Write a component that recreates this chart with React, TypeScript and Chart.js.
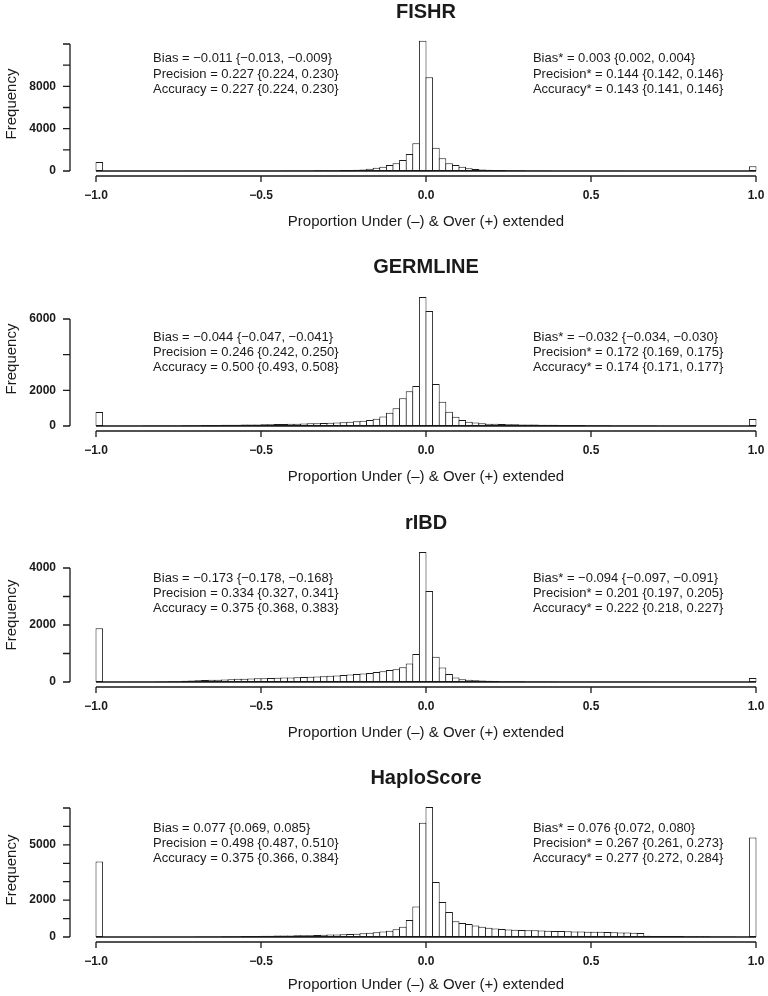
import React, { useEffect, useRef } from "react";
import { Chart, registerables } from "chart.js";

Chart.register(...registerables);

const FONT = '"Liberation Sans", Arial, Helvetica, sans-serif';
const INK = "#1a1a1a";

// ---- histogram bins (width 0.02 from -1 to 1) ----
const BIN_START = -1.0;
const BIN_WIDTH = 0.02;
const X_TICKS = [-1, -0.5, 0, 0.5, 1];
const X_TITLE = "Proportion Under (–) & Over (+) extended";
const Y_TITLE = "Frequency";

// ---- FISHR ----
const FISHR_COUNTS = [
  850, 0, 0, 0, 5, 5, 5, 5, 10, 10,
  10, 10, 10, 15, 15, 15, 15, 20, 20, 20,
  20, 25, 25, 25, 30, 30, 35, 35, 40, 40,
  45, 50, 55, 60, 65, 70, 80, 90, 100, 120,
  150, 220, 310, 410, 570, 730, 1040, 1600, 2620, 12300,
  8850, 2200, 1200, 730, 560, 400, 260, 190, 150, 120,
  100, 90, 80, 70, 60, 55, 50, 45, 40, 35,
  30, 30, 25, 25, 20, 20, 20, 15, 15, 15,
  10, 10, 10, 10, 10, 5, 5, 5, 5, 5,
  5, 5, 5, 0, 0, 0, 0, 0, 0, 450,
];
const FISHR_Y_TICKS = [0, 2000, 4000, 6000, 8000, 10000, 12000];
const FISHR_Y_LABELS = [0, 4000, 8000];
const FISHR_STATS_LEFT = [
  "Bias = −0.011 {−0.013, −0.009}",
  "Precision = 0.227 {0.224, 0.230}",
  "Accuracy = 0.227 {0.224, 0.230}",
];
const FISHR_STATS_RIGHT = [
  "Bias* = 0.003 {0.002, 0.004}",
  "Precision* = 0.144 {0.142, 0.146}",
  "Accuracy* = 0.143 {0.141, 0.146}",
];

// ---- GERMLINE ----
const GERMLINE_COUNTS = [
  790, 10, 10, 15, 15, 20, 20, 25, 25, 30,
  30, 35, 35, 40, 45, 45, 50, 55, 60, 65,
  70, 75, 80, 85, 90, 95, 100, 110, 115, 120,
  130, 140, 150, 160, 170, 185, 200, 215, 235, 260,
  290, 330, 400, 530, 740, 1000, 1550, 1950, 2250, 7230,
  6450, 2350, 1360, 800, 520, 340, 240, 190, 150, 130,
  120, 110, 100, 95, 90, 85, 80, 75, 70, 65,
  60, 55, 50, 50, 45, 45, 40, 40, 35, 35,
  30, 30, 30, 25, 25, 20, 20, 20, 15, 15,
  15, 10, 10, 10, 10, 5, 5, 5, 5, 390,
];
const GERMLINE_Y_TICKS = [0, 2000, 4000, 6000];
const GERMLINE_Y_LABELS = [0, 2000, 6000];
const GERMLINE_STATS_LEFT = [
  "Bias = −0.044 {−0.047, −0.041}",
  "Precision = 0.246 {0.242, 0.250}",
  "Accuracy = 0.500 {0.493, 0.508}",
];
const GERMLINE_STATS_RIGHT = [
  "Bias* = −0.032 {−0.034, −0.030}",
  "Precision* = 0.172 {0.169, 0.175}",
  "Accuracy* = 0.174 {0.171, 0.177}",
];

// ---- rIBD ----
const RIBD_COUNTS = [
  1890, 0, 0, 0, 0, 5, 5, 10, 10, 15,
  20, 25, 30, 40, 50, 60, 70, 75, 80, 90,
  100, 110, 115, 120, 130, 135, 140, 150, 155, 160,
  170, 175, 185, 195, 205, 215, 230, 245, 265, 285,
  300, 320, 350, 380, 420, 450, 520, 650, 980, 4560,
  3190, 890, 510, 280, 160, 100, 80, 60, 50, 40,
  35, 30, 30, 25, 25, 20, 20, 15, 15, 15,
  10, 10, 10, 10, 10, 5, 5, 5, 5, 5,
  5, 5, 5, 5, 0, 0, 0, 0, 0, 0,
  0, 0, 0, 0, 0, 0, 0, 0, 0, 140,
];
const RIBD_Y_TICKS = [0, 1000, 2000, 3000, 4000];
const RIBD_Y_LABELS = [0, 2000, 4000];
const RIBD_STATS_LEFT = [
  "Bias = −0.173 {−0.178, −0.168}",
  "Precision = 0.334 {0.327, 0.341}",
  "Accuracy = 0.375 {0.368, 0.383}",
];
const RIBD_STATS_RIGHT = [
  "Bias* = −0.094 {−0.097, −0.091}",
  "Precision* = 0.201 {0.197, 0.205}",
  "Accuracy* = 0.222 {0.218, 0.227}",
];

// ---- HaploScore ----
const HAPLO_COUNTS = [
  4100, 0, 0, 0, 0, 0, 5, 5, 5, 10,
  10, 15, 15, 20, 20, 25, 25, 30, 30, 35,
  40, 45, 50, 55, 60, 65, 70, 75, 80, 85,
  90, 95, 100, 110, 120, 130, 140, 150, 160, 180,
  200, 230, 260, 300, 340, 420, 560, 920, 1650, 6200,
  7050, 2980, 1900, 1350, 850, 760, 700, 620, 560, 500,
  460, 430, 410, 390, 380, 370, 360, 350, 340, 330,
  320, 310, 300, 295, 290, 285, 280, 270, 260, 250,
  240, 230, 220, 70, 60, 60, 55, 50, 50, 45,
  40, 40, 35, 30, 30, 25, 25, 20, 20, 5400,
];
const HAPLO_Y_TICKS = [0, 1000, 2000, 3000, 4000, 5000, 6000, 7000];
const HAPLO_Y_LABELS = [0, 2000, 5000];
const HAPLO_STATS_LEFT = [
  "Bias = 0.077 {0.069, 0.085}",
  "Precision = 0.498 {0.487, 0.510}",
  "Accuracy = 0.375 {0.366, 0.384}",
];
const HAPLO_STATS_RIGHT = [
  "Bias* = 0.076 {0.072, 0.080}",
  "Precision* = 0.267 {0.261, 0.273}",
  "Accuracy* = 0.277 {0.272, 0.284}",
];

type PanelDef = {
  title: string;
  counts: number[];
  yTicks: number[];
  yLabels: number[];
  statsLeft: string[];
  statsRight: string[];
  statsY: number; // data units for first stats line
  // page layout (px)
  titleY: number;
  zeroY: number;
  topTickY: number;
  xTitleY: number;
};

const PANELS: PanelDef[] = [
  { title: "FISHR", counts: FISHR_COUNTS, yTicks: FISHR_Y_TICKS, yLabels: FISHR_Y_LABELS, statsLeft: FISHR_STATS_LEFT, statsRight: FISHR_STATS_RIGHT, statsY: 10600, titleY: 12, zeroY: 171, topTickY: 44, xTitleY: 222 },
  { title: "GERMLINE", counts: GERMLINE_COUNTS, yTicks: GERMLINE_Y_TICKS, yLabels: GERMLINE_Y_LABELS, statsLeft: GERMLINE_STATS_LEFT, statsRight: GERMLINE_STATS_RIGHT, statsY: 4990, titleY: 267, zeroY: 426, topTickY: 319, xTitleY: 477 },
  { title: "rIBD", counts: RIBD_COUNTS, yTicks: RIBD_Y_TICKS, yLabels: RIBD_Y_LABELS, statsLeft: RIBD_STATS_LEFT, statsRight: RIBD_STATS_RIGHT, statsY: 3650, titleY: 523, zeroY: 682, topTickY: 568, xTitleY: 733 },
  { title: "HaploScore", counts: HAPLO_COUNTS, yTicks: HAPLO_Y_TICKS, yLabels: HAPLO_Y_LABELS, statsLeft: HAPLO_STATS_LEFT, statsRight: HAPLO_STATS_RIGHT, statsY: 5900, titleY: 778, zeroY: 937, topTickY: 808, xTitleY: 985 },
];

const CANVAS_W = 784;
const Y_AXIS_W = 70;
const X_PAD = 0.0788; // R-style 4% extension beyond [-1, 1]
const STATS_LEFT_X = -0.827;
const STATS_RIGHT_X = 0.324;
const STATS_LINE = 15.3;

function fmtMinus(v: number, digits: number) {
  return (v < 0 ? "−" : "") + Math.abs(v).toFixed(digits);
}

function Panel({ p }: { p: PanelDef }) {
  const ref = useRef<HTMLCanvasElement>(null);
  const topVal = p.yTicks[p.yTicks.length - 1];
  const ppu = (p.zeroY - p.topTickY) / topVal;
  const canvasTop = p.titleY - 12;
  const chartTop = canvasTop + 32;
  const chartBottom = p.zeroY + 5;
  const canvasH = Math.round(p.xTitleY + 9 - canvasTop);
  const xH = canvasTop + canvasH - chartBottom;
  const yMax = (p.zeroY - chartTop) / ppu;
  const yMin = -(chartBottom - p.zeroY) / ppu;

  useEffect(() => {
    if (!ref.current) return;
    const data = p.counts.map((c, i) => ({ x: BIN_START + BIN_WIDTH * (i + 0.5), y: c }));

    const rStyle = {
      id: "rStyle",
      afterDatasetsDraw(chart: any) {
        const { ctx, chartArea } = chart;
        const xs = chart.scales.x;
        const ys = chart.scales.y;
        ctx.save();
        ctx.strokeStyle = INK;
        ctx.lineWidth = 1.3;
        const xa = xs.getPixelForValue(X_TICKS[0]);
        const xb = xs.getPixelForValue(X_TICKS[X_TICKS.length - 1]);
        const y0 = ys.getPixelForValue(0);
        ctx.beginPath();
        // baseline under the bars
        ctx.moveTo(xa, y0);
        ctx.lineTo(xb, y0);
        // x axis
        const yAx = chartArea.bottom;
        ctx.moveTo(xa, yAx);
        ctx.lineTo(xb, yAx);
        X_TICKS.forEach((v) => {
          const px = xs.getPixelForValue(v);
          ctx.moveTo(px, yAx);
          ctx.lineTo(px, yAx + 6);
        });
        // y axis
        const xl = chartArea.left;
        const yTop = ys.getPixelForValue(topVal);
        ctx.moveTo(xl, y0);
        ctx.lineTo(xl, yTop);
        p.yTicks.forEach((v) => {
          const py = ys.getPixelForValue(v);
          ctx.moveTo(xl, py);
          ctx.lineTo(xl - 7, py);
        });
        ctx.stroke();
        // stats text
        ctx.fillStyle = INK;
        ctx.font = `13px ${FONT}`;
        ctx.textBaseline = "middle";
        ctx.textAlign = "left";
        const sy = ys.getPixelForValue(p.statsY);
        const lx = xs.getPixelForValue(STATS_LEFT_X);
        const rx = xs.getPixelForValue(STATS_RIGHT_X);
        p.statsLeft.forEach((t, i) => ctx.fillText(t, lx, sy + i * STATS_LINE));
        p.statsRight.forEach((t, i) => ctx.fillText(t, rx, sy + i * STATS_LINE));
        ctx.restore();
      },
    };

    const chart = new Chart(ref.current, {
      type: "bar",
      data: {
        datasets: [
          {
            data: data as any,
            backgroundColor: "#ffffff",
            borderColor: INK,
            borderWidth: 1,
            borderSkipped: false,
            barPercentage: 1.15,
            categoryPercentage: 1,
          } as any,
        ],
      },
      options: {
        animation: false,
        responsive: false,
        maintainAspectRatio: false,
        layout: { padding: { left: 0, right: 2, top: 0, bottom: 0 } },
        plugins: {
          legend: { display: false },
          tooltip: { enabled: false },
          title: {
            display: true,
            text: p.title,
            fullSize: false,
            color: INK,
            font: { family: FONT, size: 20, weight: "bold" },
            padding: { top: 0, bottom: 8 },
          } as any,
        },
        scales: {
          x: {
            type: "linear",
            min: -1 - X_PAD,
            max: 1 + X_PAD,
            offset: false,
            grid: { display: false, drawTicks: false, offset: false },
            border: { display: false },
            ticks: {
              autoSkip: false,
              maxRotation: 0,
              padding: 12,
              color: INK,
              font: { family: FONT, size: 12, weight: "bold" },
              callback: (v: any) => fmtMinus(Number(v), 1),
            },
            title: {
              display: true,
              text: X_TITLE,
              color: INK,
              font: { family: FONT, size: 15 },
              padding: { top: 0, bottom: 0 },
            },
            afterBuildTicks: (s: any) => {
              s.ticks = X_TICKS.map((v) => ({ value: v }));
            },
            afterFit: (s: any) => {
              s.height = xH;
            },
          } as any,
          y: {
            type: "linear",
            min: yMin,
            max: yMax,
            grid: { display: false, drawTicks: false },
            border: { display: false },
            ticks: {
              autoSkip: false,
              padding: 14,
              color: INK,
              font: { family: FONT, size: 12, weight: "bold" },
              callback: (v: any) => String(v),
            },
            title: {
              display: true,
              text: Y_TITLE,
              color: INK,
              font: { family: FONT, size: 15 },
              padding: { top: 3, bottom: 0 },
            },
            afterBuildTicks: (s: any) => {
              s.ticks = p.yLabels.map((v) => ({ value: v }));
            },
            afterFit: (s: any) => {
              s.width = Y_AXIS_W;
            },
          } as any,
        },
      },
      plugins: [rStyle as any],
    });
    return () => chart.destroy();
  }, []);

  return (
    <canvas
      ref={ref}
      width={CANVAS_W}
      height={canvasH}
      style={{ position: "absolute", left: 0, top: canvasTop, width: CANVAS_W, height: canvasH }}
    />
  );
}

export default function App() {
  return (
    <div
      style={{
        position: "fixed",
        left: 0,
        top: 0,
        width: 768,
        height: 996,
        overflow: "hidden",
        background: "#ffffff",
      }}
    >
      {PANELS.map((p) => (
        <Panel key={p.title} p={p} />
      ))}
    </div>
  );
}
